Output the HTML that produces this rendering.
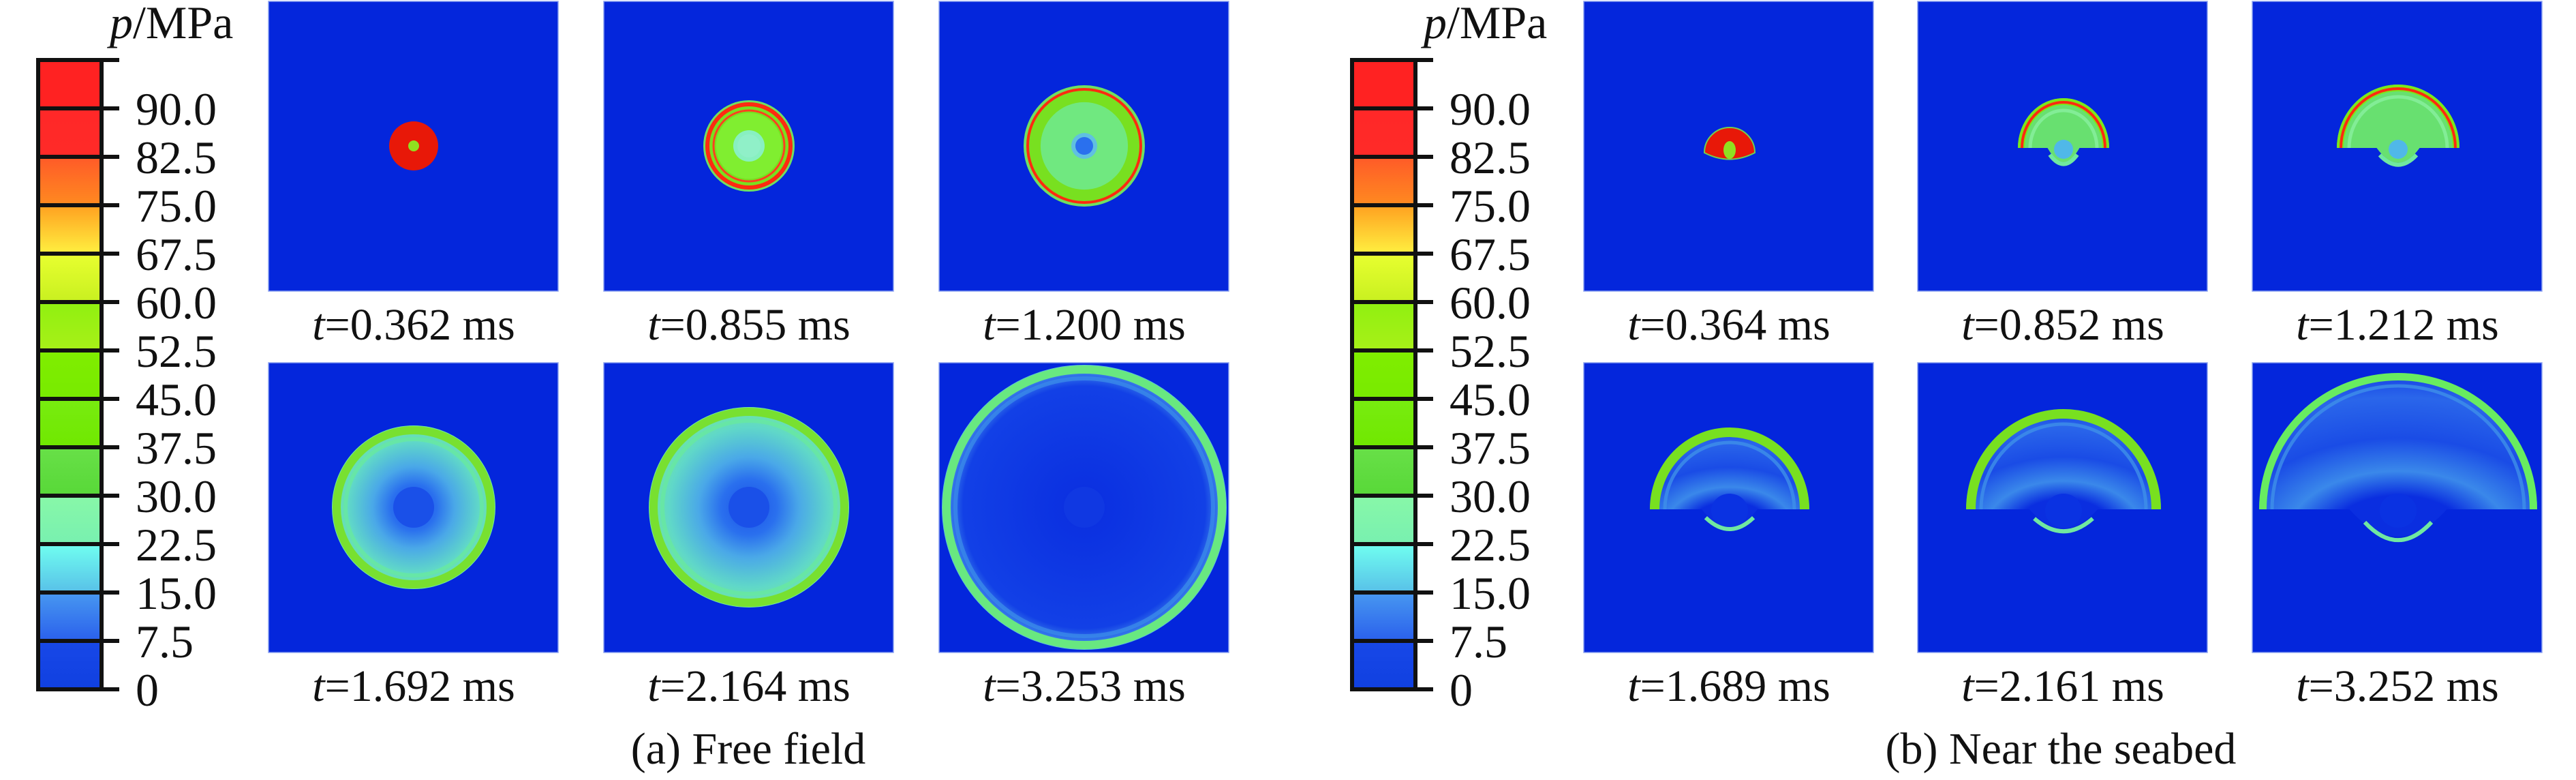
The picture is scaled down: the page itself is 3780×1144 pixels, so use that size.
<!DOCTYPE html>
<html><head><meta charset="utf-8"><style>
html,body{margin:0;padding:0;background:#fff;font-family:"Liberation Serif","Times New Roman",Times,serif;}
svg{display:block;}
</style></head><body>
<svg id="fig" width="3780" height="1144" viewBox="0 0 3780 1144" xmlns="http://www.w3.org/2000/svg">
<defs>
<radialGradient id="ffIn" cx="50%" cy="50%" r="50%">
<stop offset="0" stop-color="#1a50e8"/><stop offset="0.28" stop-color="#2a70ee"/><stop offset="0.5" stop-color="#4aa8e8"/><stop offset="0.8" stop-color="#60d8c8"/><stop offset="1" stop-color="#70e8a0"/>
</radialGradient>
<radialGradient id="ffInLate" cx="50%" cy="50%" r="50%">
<stop offset="0" stop-color="#0a2ee0"/><stop offset="0.85" stop-color="#1240e6"/><stop offset="0.95" stop-color="#3a80ea"/><stop offset="1" stop-color="#60c8d0"/>
</radialGradient>
<radialGradient id="sbIn" cx="50%" cy="100%" r="100%">
<stop offset="0" stop-color="#0a2ee0"/><stop offset="0.25" stop-color="#0a2ee0"/><stop offset="0.4" stop-color="#3a88ea"/><stop offset="0.6" stop-color="#1a4ce6"/><stop offset="0.85" stop-color="#2a66ea"/><stop offset="1" stop-color="#1642e6"/>
</radialGradient>
</defs>
<g id="root"></g>
</svg>
<script>
// colour-bar data
const tickValues = [0, 7.5, 15, 22.5, 30, 37.5, 45, 52.5, 60, 67.5, 75, 82.5, 90];
const tickLabels = ["0","7.5","15.0","22.5","30.0","37.5","45.0","52.5","60.0","67.5","75.0","82.5","90.0"];
const bandTop = ["#1848e8","#4898f0","#70fff0","#88f8a8","#68e048","#78ec10","#80ee00","#90f010","#e8ff30","#ffa020","#ff5a28","#ff2828","#ff2222"];
const bandBot = ["#1040e0","#2a60ec","#58c0e8","#78f0b0","#58d838","#70e800","#78ea00","#a8f018","#c8f020","#fff040","#ff8a20","#ff2a28","#ff2222"];
// snapshot times
const timesA = ["0.362","0.855","1.200","1.692","2.164","3.253"];
const timesB = ["0.364","0.852","1.212","1.689","2.161","3.252"];
// free-field front radius (px in panel) and low-pressure core radius
const ffRadius = [36, 67, 89, 120, 147, 209];
const ffCore = [8, 17, 13, 30, 30, 30];
// seabed: arch half-width, arch height above base, V-dip depth
const sbHalfW = [37, 67, 90, 117, 143, 204];
const sbHeight = [37, 73, 93, 120, 147, 200];
const sbDip = [12, 22, 23, 27, 30, 42];

const NS = "http://www.w3.org/2000/svg";
const SERIF = '"Liberation Serif", "Times New Roman", Times, serif';
const root = document.getElementById("root");
function mk(tag, attrs, parent) {
  const e = document.createElementNS(NS, tag);
  for (const k in attrs) e.setAttribute(k, attrs[k]);
  if (tag === "text") { e.style.fontFamily = SERIF; e.style.fill = "#111"; }
  (parent || root).appendChild(e);
  return e;
}
const BLUE = "#0426dc";
const cbTop = 88, cbBot = 1011;
const vmax = 97.5;
function yScale(v) { return cbBot - (v / vmax) * (cbBot - cbTop); }

function colorbar(x0, x1, name) {
  const g = mk("g", {});
  
  
  for (let i = 0; i < bandTop.length; i++) {
    const y0 = yScale(i * 7.5 + 7.5), y1 = yScale(i * 7.5);
    const gid = name + "-g" + i;
    const lg = mk("linearGradient", {id: gid, x1: 0, y1: 0, x2: 0, y2: 1}, document.querySelector("defs"));
    mk("stop", {offset: 0, "stop-color": bandTop[i]}, lg);
    mk("stop", {offset: 1, "stop-color": bandBot[i]}, lg);
    const r = mk("rect", {x: x0, y: y0, width: x1 - x0, height: y1 - y0, fill: "url(#" + gid + ")"}, g);
    
    
  }
  mk("rect", {x: x0, y: cbTop, width: x1 - x0, height: cbBot - cbTop, fill: "none", stroke: "#111", "stroke-width": 6}, g);
  for (let i = 0; i < tickValues.length; i++) {
    const y = yScale(tickValues[i]);
    mk("line", {x1: x0, x2: x1 + 26, y1: y, y2: y, stroke: "#111", "stroke-width": 6}, g);
    const t = mk("text", {x: x1 + 50, y: y + 24, "font-size": 68}, g);
    t.textContent = tickLabels[i];
    
    
  }
  mk("line", {x1: x1, x2: x1 + 26, y1: cbTop, y2: cbTop, stroke: "#111", "stroke-width": 6}, g);
  const ti = mk("text", {x: x1 + 12, y: 56, "font-size": 68}, g);
  ti.innerHTML = '<tspan font-style="italic">p</tspan>/MPa';
  
  
}

function panelBox(px, py, name) {
  const g = mk("g", {transform: "translate(" + px + "," + py + ")"});
  
  
  mk("rect", {x: 0, y: 0, width: 425, height: 425, fill: BLUE, stroke: "#8aa0f0", "stroke-width": 1.5}, g);
  return g;
}
function label(cx, y, t) {
  const e = mk("text", {x: cx, y: y, "font-size": 66, "text-anchor": "middle"});
  e.innerHTML = '<tspan font-style="italic">t</tspan>=' + t + ' ms';
  
  
}

const colsA = [394, 886, 1378], colsB = [2324, 2814, 3305], rows = [2, 532];
const labelY = [498, 1028];

colorbar(56, 149, "colorbar-free-field");
colorbar(1984, 2077, "colorbar-seabed");

// free field
for (let i = 0; i < 6; i++) {
  const px = colsA[i % 3], py = rows[Math.floor(i / 3)];
  const g = panelBox(px, py, "free-field-panel-" + (i + 1));
  const cx = 213, cy = 212, R = ffRadius[i];
  if (i < 3) {
    mk("circle", {cx, cy, r: R, fill: i === 0 ? "#e81808" : "#70e060"}, g);
    if (i === 0) {
      mk("circle", {cx, cy, r: ffCore[i], fill: "#90e020"}, g);
    } else {
      mk("circle", {cx, cy, r: R - 4, fill: "#78e020"}, g);
      mk("circle", {cx, cy, r: R - 6, fill: "none", stroke: "#ff2a10", "stroke-width": i === 1 ? 6 : 4}, g);
      if (i === 1) mk("circle", {cx, cy, r: R - 15, fill: "none", stroke: "#ff4020", "stroke-width": 3}, g);
      mk("circle", {cx, cy, r: R * 0.72, fill: i === 1 ? "#80ee30" : "#70e880"}, g);
      mk("circle", {cx, cy, r: ffCore[i] + 6, fill: i === 1 ? "#88f0c0" : "#60c0e0"}, g);
      mk("circle", {cx, cy, r: ffCore[i], fill: i === 1 ? "#90f0c8" : "#2a70ee"}, g);
    }
  } else {
    mk("circle", {cx, cy, r: R, fill: i === 5 ? "url(#ffInLate)" : "url(#ffIn)"}, g);
    mk("circle", {cx, cy, r: R - 7, fill: "none", stroke: i === 5 ? "#68e880" : "#78e030", "stroke-width": 12}, g);
    mk("circle", {cx, cy, r: R - 20, fill: "none", stroke: i === 5 ? "#3a8ae8" : "#68e8a0", "stroke-width": 6, opacity: 0.8}, g);
    mk("circle", {cx, cy, r: ffCore[i], fill: i === 5 ? "#1038e2" : "#1a50e8"}, g);
  }
  label(px + 213, labelY[Math.floor(i / 3)], timesA[i]);
}

// seabed
for (let i = 0; i < 6; i++) {
  const px = colsB[i % 3], py = rows[Math.floor(i / 3)];
  const g = panelBox(px, py, "seabed-panel-" + (i + 1));
  const cx = 214, base = i === 0 ? 222 : 215, rx = sbHalfW[i], ry = sbHeight[i], d = sbDip[i];
  label(px + 213, labelY[Math.floor(i / 3)], timesB[i]);
  if (i === 0) {
    mk("path", {d: "M" + (cx - rx) + "," + base + " A" + rx + "," + ry + " 0 0 1 " + (cx + rx) + "," + base + " Q" + cx + "," + (base + d * 1.6) + " " + (cx - rx) + "," + base + "Z", fill: "#e81808", stroke: "#70d050", "stroke-width": 2}, g);
    mk("ellipse", {cx, cy: base - 4, rx: 9, ry: 13, fill: "#90e020"}, g);
    continue;
  }
  const arch = "M" + (cx - rx) + "," + base + " A" + rx + "," + ry + " 0 0 1 " + (cx + rx) + "," + base;
  mk("path", {d: arch + " L" + (cx + rx * 0.35) + "," + base + " Q" + cx + "," + (base + d * 1.9) + " " + (cx - rx * 0.35) + "," + base + "Z", fill: i < 3 ? "#68e070" : "url(#sbIn)"}, g);
  const sw = i < 3 ? 10 : (i === 5 ? 11 : 14);
  mk("path", {d: "M" + (cx - rx + sw / 2) + "," + base + " A" + (rx - sw / 2) + "," + (ry - sw / 2) + " 0 0 1 " + (cx + rx - sw / 2) + "," + base, fill: "none", stroke: i < 3 ? "#7ce818" : (i === 5 ? "#68ec60" : "#78e020"), "stroke-width": sw}, g);
  if (i < 3) mk("path", {d: "M" + (cx - rx + 6) + "," + base + " A" + (rx - 6) + "," + (ry - 6) + " 0 0 1 " + (cx + rx - 6) + "," + base, fill: "none", stroke: "#ff2a10", "stroke-width": 4}, g);
  mk("path", {d: "M" + (cx - rx + sw + 8) + "," + base + " A" + (rx - sw - 8) + "," + (ry - sw - 8) + " 0 0 1 " + (cx + rx - sw - 8) + "," + base, fill: "none", stroke: i < 3 ? "#88f0a0" : "#3e90e8", "stroke-width": 5, opacity: 0.8}, g);
  mk("ellipse", {cx, cy: base + 2, rx: i < 3 ? 14 : 27, ry: i < 3 ? 14 : 25, fill: i < 3 ? "#50b8e8" : "#0a32e2"}, g);
  mk("path", {d: "M" + (cx - rx * (i === 5 ? 0.24 : 0.3)) + "," + (base + d * 0.45) + " Q" + cx + "," + (base + d * 1.7) + " " + (cx + rx * (i === 5 ? 0.24 : 0.3)) + "," + (base + d * 0.45), fill: "none", stroke: "#70e8a0", "stroke-width": 6}, g);
}

const capA = mk("text", {x: 1098, y: 1120, "font-size": 66, "text-anchor": "middle"});
capA.textContent = "(a) Free field";


const capB = mk("text", {x: 3024, y: 1120, "font-size": 66, "text-anchor": "middle"});
capB.textContent = "(b) Near the seabed";


</script>
</body></html>
